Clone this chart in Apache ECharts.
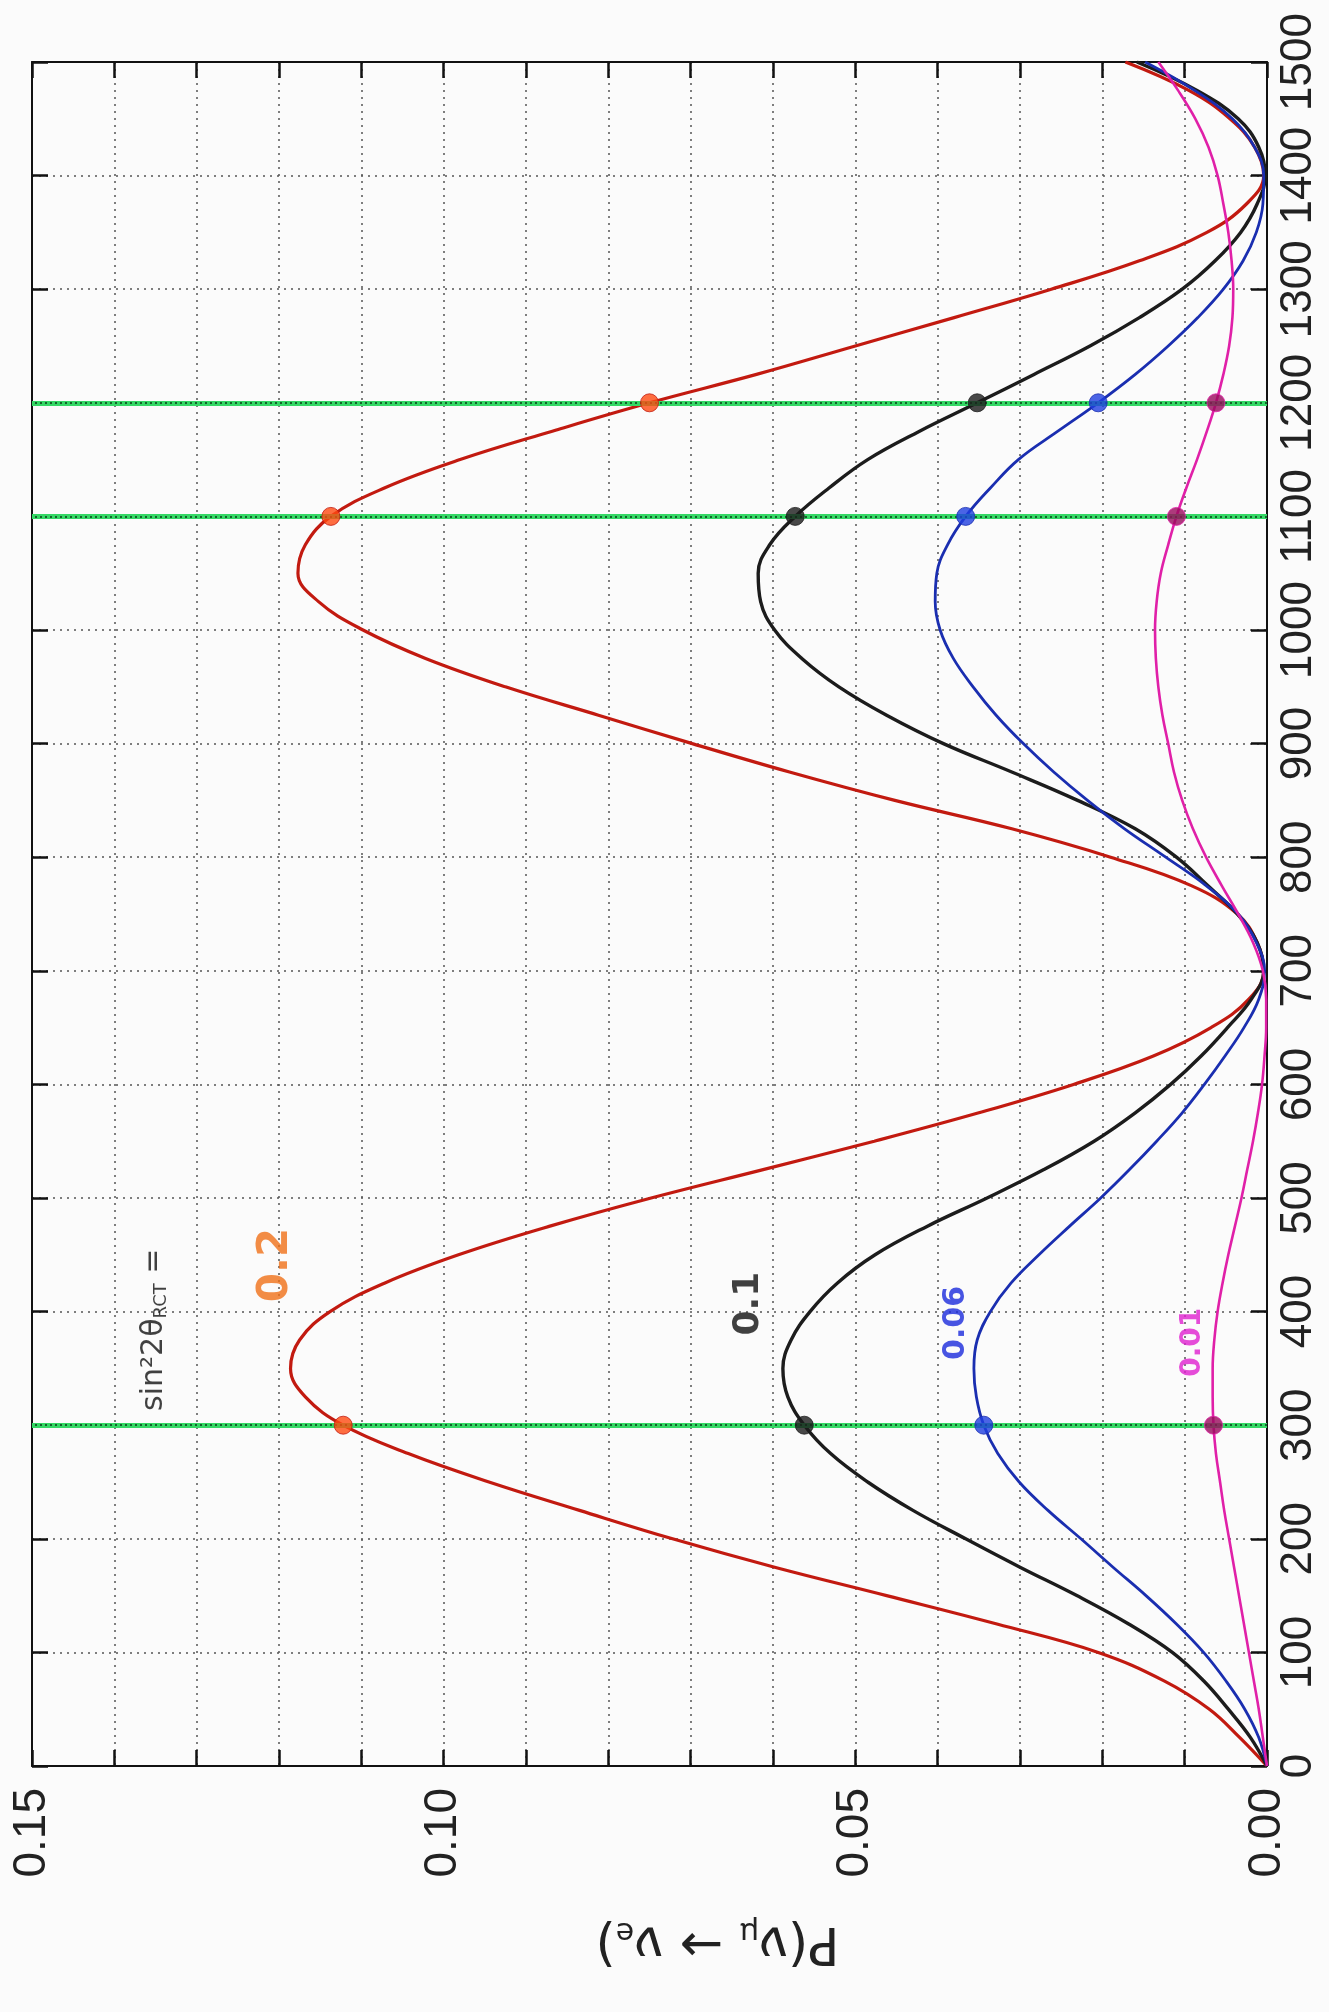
<!DOCTYPE html>
<html><head><meta charset="utf-8">
<script src="https://cdn.jsdelivr.net/npm/echarts@6/dist/echarts.min.js"></script>
<style>html,body{margin:0;padding:0;background:#fbfbfb}#c{width:1329px;height:2012px}</style>
</head><body><div id="c"></div>
<script>
// Energy samples (vertical axis in the rotated picture)
const energy = [0,25,50,75,100,125,150,175,200,225,250,275,300,325,350,375,400,425,450,475,500,525,550,575,600,625,650,675,700,725,750,775,800,825,850,875,900,925,950,975,1000,1025,1050,1075,1100,1125,1150,1175,1200,1225,1250,1275,1300,1325,1350,1375,1400,1425,1450,1475,1500];
// P(nu_mu -> nu_e) for sin^2 2theta = 0.2, 0.1, 0.06, 0.01
const pRed = [0,0.0033,0.007,0.0125,0.0205,0.0328,0.0462,0.0598,0.0722,0.0835,0.0945,0.1043,0.1122,0.1168,0.1186,0.1175,0.1138,0.1072,0.0982,0.0872,0.0748,0.0612,0.0477,0.035,0.0235,0.0138,0.0068,0.0022,0.0004,0.0012,0.0036,0.0092,0.019,0.031,0.0452,0.058,0.0698,0.0812,0.0925,0.1022,0.1098,0.1152,0.1177,0.1168,0.1137,0.1072,0.098,0.0868,0.075,0.062,0.05,0.038,0.0262,0.0155,0.0073,0.0025,0.0004,0.0015,0.0045,0.0095,0.0172];
const pBlack = [0,0.002,0.0047,0.0077,0.0115,0.0168,0.0231,0.03,0.0366,0.043,0.0485,0.053,0.0562,0.0582,0.0588,0.0578,0.0555,0.0522,0.0476,0.0413,0.034,0.0271,0.021,0.016,0.0117,0.008,0.0048,0.0019,0.0004,0.0012,0.0036,0.0072,0.011,0.016,0.023,0.031,0.0393,0.0462,0.052,0.0565,0.0598,0.0615,0.0618,0.0604,0.0573,0.0532,0.0485,0.0422,0.0352,0.0283,0.0215,0.0155,0.0103,0.0063,0.0032,0.0012,0.0002,0.001,0.0035,0.0085,0.0158];
const pBlue = [0,0.001,0.0027,0.005,0.0077,0.011,0.0147,0.0187,0.0226,0.0266,0.0301,0.0327,0.0344,0.0353,0.0356,0.0352,0.0336,0.0311,0.0277,0.024,0.0202,0.0167,0.0134,0.0103,0.0076,0.0051,0.0028,0.001,0.0003,0.0013,0.0035,0.0074,0.0123,0.0173,0.0218,0.0259,0.0296,0.0329,0.0357,0.0381,0.0397,0.0403,0.0401,0.0388,0.0366,0.0336,0.0302,0.0254,0.0205,0.016,0.012,0.0084,0.0053,0.0029,0.0013,0.0005,0.0004,0.0015,0.0042,0.0088,0.0148];
const pMagenta = [0,0.0005,0.001,0.0016,0.0022,0.0028,0.0034,0.004,0.0046,0.0052,0.0057,0.0062,0.0065,0.0066,0.0066,0.0064,0.006,0.0054,0.0047,0.0039,0.0031,0.0024,0.0017,0.0011,0.0006,0.0003,0.0001,0.0001,0.0005,0.0017,0.0035,0.0055,0.0074,0.009,0.0103,0.0113,0.012,0.0127,0.0132,0.0135,0.0136,0.0134,0.0129,0.012,0.011,0.0098,0.0085,0.0073,0.0062,0.0053,0.0046,0.0042,0.0041,0.0043,0.0047,0.0053,0.006,0.0071,0.0087,0.0108,0.0132];
// marked energies (dots) and green reference lines
const dotEnergies = [300, 1100, 1200];
const greenLineEnergies = [300, 1100, 1200];
// axis ticks
const probMin = 0, probMax = 0.15, probStep = 0.01, probLabelStep = 0.05;
const energyMin = 0, energyMax = 1500, energyStep = 100;
// hand-written annotations: text and anchor in data space [P, E]
const annotationTexts = ['sin²2θ{sub|RCT} =', '0.2', '0.1', '0.06', '0.01'];
const annotationAnchors = [[0.1352, 384], [0.1204, 441], [0.063, 407], [0.0378, 390], [0.009, 373]];
</script>
<script>
const chart = echarts.init(document.getElementById('c'), null, {renderer: 'canvas'});
const FONT = "'Liberation Sans', Arial, Helvetica, sans-serif";
const HAND = "'DejaVu Sans', 'Noto Sans', sans-serif";
const pairs = p => energy.map((e, i) => [p[i], e]);
const dots = p => dotEnergies.map(e => [p[energy.indexOf(e)], e]);

const curves = [
  {name: '0.2', data: pRed, color: '#c21a10', dot: '#ff4a12', width: 3.2},
  {name: '0.1', data: pBlack, color: '#1c1c1c', dot: '#1c1c1c', width: 3.4},
  {name: '0.06', data: pBlue, color: '#1a2eb0', dot: '#1f3fe0', width: 2.8},
  {name: '0.01', data: pMagenta, color: '#e020a8', dot: '#9a0a5c', width: 2.6}
];
const annStyles = [
  {color: '#111', fontSize: 30},
  {color: '#f07018', fontSize: 42, fontWeight: 'bold'},
  {color: '#111', fontSize: 36, fontWeight: 'bold'},
  {color: '#1a2adc', fontSize: 30, fontWeight: 'bold'},
  {color: '#e020d0', fontSize: 28, fontWeight: 'bold'}
];

const axisLine = {show: true, onZero: false, lineStyle: {color: '#111', width: 2}};
const tick = {show: true, inside: true, length: 16, lineStyle: {color: '#111', width: 2.5}};
const split = {show: true, lineStyle: {color: '#555', type: [2, 5], width: 1.5}};
const isLabelled = v => Math.abs(v / probLabelStep - Math.round(v / probLabelStep)) < 1e-6;

const series = [];
// green reference lines
series.push({
  type: 'line', data: [], silent: true, z: 1,
  markLine: {
    silent: true, symbol: ['none', 'none'], label: {show: false},
    lineStyle: {color: '#34d865', width: 5, type: 'solid'},
    data: greenLineEnergies.map(e => ({yAxis: e}))
  }
});
series.push({
  type: 'line', data: [], silent: true, z: 2,
  markLine: {
    silent: true, symbol: ['none', 'none'], label: {show: false},
    lineStyle: {color: '#0b3a18', width: 1.6, type: [2, 3]},
    data: greenLineEnergies.map(e => ({yAxis: e}))
  }
});
curves.forEach(c => {
  series.push({
    type: 'line', name: c.name, data: pairs(c.data), smooth: 0.4,
    symbol: 'none', showSymbol: false, z: 3,
    lineStyle: {color: c.color, width: c.width}
  });
});
curves.forEach(c => {
  series.push({
    type: 'scatter', data: dots(c.data), symbolSize: 18, z: 5,
    itemStyle: {color: c.dot, borderColor: c.color, borderWidth: 1}
  });
});
series.push({
  type: 'scatter', symbolSize: 0, z: 6, silent: true,
  data: annotationTexts.map((t, i) => ({
    value: annotationAnchors[i],
    label: Object.assign({
      show: true, formatter: t, rotate: 90, position: 'inside', fontFamily: HAND,
      rich: {sub: {fontSize: 18, verticalAlign: 'bottom', padding: [14, 0, 0, 0], color: annStyles[i].color, fontFamily: HAND}}
    }, annStyles[i])
  }))
});

chart.setOption({
  backgroundColor: '#fbfbfb',
  animation: false,
  grid: {left: 32, right: 62, top: 62, bottom: 246, containLabel: false},
  xAxis: [
    {
      type: 'value', min: probMin, max: probMax, interval: probStep, inverse: true, position: 'bottom',
      axisLine, axisTick: tick, splitLine: split,
      axisLabel: {rotate: 90, margin: 22, fontSize: 46, color: '#222', fontFamily: FONT,
        formatter: v => isLabelled(v) ? v.toFixed(2) : ''},
      name: 'P(ν{s|μ} → ν{s|e})', nameLocation: 'middle', nameGap: 150, nameRotate: 180,
      nameTextStyle: {fontSize: 52, color: '#222', fontFamily: HAND, padding: [0, 136, 0, 0],
        rich: {s: {fontSize: 30, verticalAlign: 'bottom', padding: [22, 0, 0, 0], color: '#222', fontFamily: HAND}}}
    },
    {
      type: 'value', min: probMin, max: probMax, interval: probStep, inverse: true, position: 'top',
      axisLine, axisTick: tick, splitLine: {show: false}, axisLabel: {show: false}
    }
  ],
  yAxis: [
    {
      type: 'value', min: energyMin, max: energyMax, interval: energyStep, position: 'right',
      axisLine, axisTick: tick, splitLine: split,
      axisLabel: {rotate: 90, margin: 10, fontSize: 44, color: '#222', fontFamily: FONT,
        formatter: v => String(v)}
    },
    {
      type: 'value', min: energyMin, max: energyMax, interval: energyStep, position: 'left',
      axisLine, axisTick: tick, splitLine: {show: false}, axisLabel: {show: false}
    }
  ],
  series
});
</script>
</body></html>
